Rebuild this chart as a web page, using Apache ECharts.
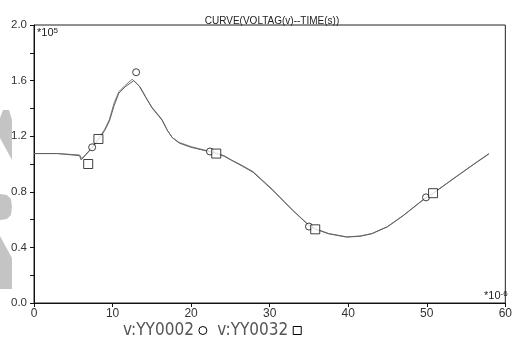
<!DOCTYPE html>
<html>
<head>
<meta charset="utf-8">
<script src="https://cdn.jsdelivr.net/npm/echarts@6/dist/echarts.min.js"></script>
<style>html,body{margin:0;padding:0;background:#fff;}#c{width:515px;height:345px;}</style>
</head>
<body>
<div id="c"></div>
<script>
// Curve YY0002 (x in 1e-6 s, y in 1e5 V)
const curveA = [[0,1.075],[3,1.075],[5.8,1.065],[6.1,1.04],[6.6,1.07],[7.4,1.12],[8.2,1.18],[9.0,1.25],[9.6,1.32],[10.2,1.44],[10.8,1.52],[11.5,1.56],[12.5,1.61],[13.4,1.56],[14.2,1.48],[15.0,1.41],[16.3,1.32],[17.0,1.24],[17.6,1.19],[18.5,1.155],[20.0,1.125],[22.4,1.09],[23.2,1.078],[24.2,1.06],[25.1,1.03],[26.5,0.99],[27.9,0.945],[30.4,0.815],[32.9,0.67],[35.0,0.56],[35.8,0.535],[37.5,0.5],[39.8,0.476],[41.5,0.482],[43.0,0.5],[45.0,0.55],[47.0,0.63],[49.9,0.76],[50.8,0.79],[54.0,0.92],[56.0,1.0],[57.9,1.075]];
// Curve YY0032
const curveB = [[0,1.075],[3,1.075],[5.8,1.06],[6.0,1.03],[6.5,1.06],[7.4,1.115],[8.2,1.175],[9.0,1.24],[9.6,1.31],[10.2,1.42],[10.8,1.51],[11.6,1.555],[12.7,1.60],[13.5,1.555],[14.2,1.485],[15.0,1.405],[16.3,1.315],[17.0,1.24],[17.6,1.19],[18.5,1.15],[20.0,1.12],[22.4,1.088],[23.2,1.075],[24.2,1.056],[25.1,1.028],[26.5,0.985],[27.9,0.94],[30.4,0.81],[32.9,0.668],[35.0,0.557],[35.8,0.532],[37.5,0.498],[39.8,0.474],[41.5,0.48],[43.0,0.498],[45.0,0.548],[47.0,0.628],[49.9,0.758],[50.8,0.788],[54.0,0.918],[56.0,0.998],[57.9,1.072]];
// marker points
const markersA = [[7.4,1.12],[13.0,1.66],[22.4,1.09],[35.0,0.55],[49.9,0.76]];
const markersB = [[6.9,1.00],[8.2,1.18],[23.2,1.075],[35.8,0.53],[50.8,0.79]];
const seriesNames = ['v:YY0002','v:YY0032'];
const titleText = 'CURVE(VOLTAG(v)--TIME(s))';

const chart = echarts.init(document.getElementById('c'), null, {renderer:'canvas'});
const font = 'Liberation Sans, Arial, sans-serif';
const narrow = '"DejaVu Sans Condensed", "Liberation Sans", sans-serif';
const gray = '#c4c4c4';
chart.setOption({
  animation:false,
  backgroundColor:'#fff',
  title:{text:titleText,left:267,top:11,textAlign:'center',textStyle:{fontFamily:font,fontSize:10,fontWeight:'normal',color:'#222'}},
  grid:{left:34,top:25,right:5,bottom:42,show:true,borderColor:'#222',borderWidth:1,backgroundColor:'transparent'},
  xAxis:{type:'value',min:0,max:60,interval:10,
    axisLine:{lineStyle:{color:'#111',width:1}},
    axisTick:{show:true,length:4,lineStyle:{color:'#111'}},
    axisLabel:{color:'#333',fontFamily:font,fontSize:12,margin:5},
    splitLine:{show:false}},
  yAxis:{type:'value',min:0,max:2.0,interval:0.2,
    axisLine:{show:true,lineStyle:{color:'#111',width:1}},
    axisTick:{show:true,length:4,lineStyle:{color:'#111'}},
    axisLabel:{color:'#333',fontFamily:font,fontSize:11.5,margin:7,
      formatter:function(v){return Math.round(v*10)%4===0 ? v.toFixed(1) : '';}},
    splitLine:{show:false}},
  legend:{left:118,top:317,align:'right',itemGap:10,itemWidth:8,itemHeight:8,
    textStyle:{fontFamily:narrow,fontSize:17,color:'#555'},
    data:[{name:seriesNames[0],icon:'circle',itemStyle:{color:'#fff',borderColor:'#000',borderWidth:1}},
          {name:seriesNames[1],icon:'rect',itemStyle:{color:'#fff',borderColor:'#000',borderWidth:1}}]},
  series:[
    {type:'line',name:seriesNames[0],data:curveA,showSymbol:false,lineStyle:{color:'#808080',width:1},itemStyle:{color:'#808080'}},
    {type:'line',name:seriesNames[1],data:curveB,showSymbol:false,lineStyle:{color:'#606060',width:1},itemStyle:{color:'#606060'}},
    {type:'scatter',name:seriesNames[0],data:markersA,symbol:'circle',symbolSize:7,itemStyle:{color:'#fff',borderColor:'#111',borderWidth:1},z:5},
    {type:'scatter',name:seriesNames[1],data:markersB,symbol:'rect',symbolSize:9,itemStyle:{color:'#fff',borderColor:'#111',borderWidth:1},z:5}
  ],
  graphic:[
    {type:'text',left:37,top:27,style:{rich:{a:{fontFamily:font,fontSize:11,fill:'#222'},s:{fontFamily:font,fontSize:8,fill:'#222',verticalAlign:'top',padding:[0,0,4,0]}},text:'{a|*10}{s|5}'},z:10},
    {type:'text',left:484,top:290,style:{rich:{a:{fontFamily:font,fontSize:11,fill:'#222'},s:{fontFamily:font,fontSize:8,fill:'#222',padding:[0,0,4,0]}},text:'{a|*10}{s|-6}'},z:10},
    {type:'polygon',shape:{points:[[3,110],[9,110],[12,120],[12,160],[0,138],[0,118]]},style:{fill:gray},z:20,silent:true},
    {type:'polygon',shape:{points:[[0,194],[7,195],[11,199],[12,207],[11,215],[7,219],[0,220]]},style:{fill:gray},z:20,silent:true},
    {type:'polygon',shape:{points:[[0,236],[12,258],[12,289],[0,289]]},style:{fill:gray},z:20,silent:true}
  ]
});
</script>
</body>
</html>
